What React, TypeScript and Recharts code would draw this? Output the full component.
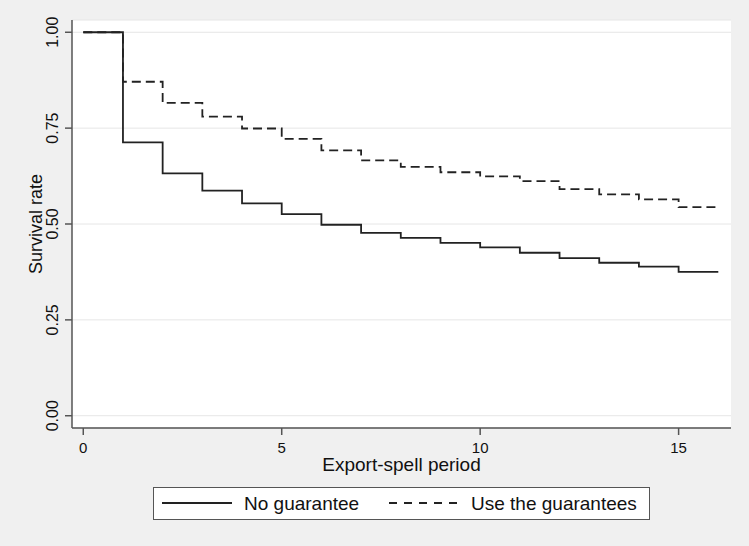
import { LineChart, Line, XAxis, YAxis, CartesianGrid } from "recharts";

const periods = [0, 1, 2, 3, 4, 5, 6, 7, 8, 9, 10, 11, 12, 13, 14, 15, 16];
const noGuarantee = [
  1.0, 0.713, 0.632, 0.587, 0.554, 0.526, 0.498, 0.477, 0.464, 0.451, 0.439,
  0.425, 0.411, 0.399, 0.389, 0.375, 0.375,
];
const useGuarantees = [
  1.0, 0.871, 0.816, 0.78, 0.749, 0.722, 0.692, 0.666, 0.649, 0.635, 0.624,
  0.612, 0.591, 0.577, 0.564, 0.544, 0.544,
];
const xTicks = [0, 5, 10, 15];
const yTicks = [0, 0.25, 0.5, 0.75, 1];

const FONT = '"Liberation Sans", Arial, sans-serif';
const INK = "#111";
const AXIS = "#555";

const data = periods.map((t, i) => ({
  t,
  noGuarantee: noGuarantee[i],
  useGuarantees: useGuarantees[i],
}));

function YTick(props: any) {
  const { x, y, payload } = props;
  return (
    <text
      x={x}
      y={y}
      transform={`rotate(-90 ${x} ${y})`}
      textAnchor="middle"
      fontSize={16}
      fontFamily={FONT}
      fill={INK}
    >
      {Number(payload.value).toFixed(2)}
    </text>
  );
}

function XTick(props: any) {
  const { x, y, payload } = props;
  return (
    <text x={x} y={y + 18} textAnchor="middle" fontSize={15} fontFamily={FONT} fill={INK}>
      {payload.value}
    </text>
  );
}

function xTitle(props: any) {
  const vb = props.viewBox;
  return (
    <text
      x={vb.x + vb.width / 2}
      y={vb.y + 43}
      textAnchor="middle"
      fontSize={19}
      fontFamily={FONT}
      fill={INK}
    >
      Export-spell period
    </text>
  );
}

function yTitle(props: any) {
  const vb = props.viewBox;
  const cx = 42;
  const cy = vb.y + vb.height / 2;
  return (
    <text
      x={cx}
      y={cy}
      transform={`rotate(-90 ${cx} ${cy})`}
      textAnchor="middle"
      fontSize={18}
      fontFamily={FONT}
      fill={INK}
    >
      Survival rate
    </text>
  );
}

export default function App() {
  return (
    <div
      style={{
        position: "relative",
        width: 749,
        height: 546,
        background: "#f0f0f0",
        fontFamily: FONT,
      }}
    >
      <style>{"body{margin:0}"}</style>
      <LineChart
        width={749}
        height={546}
        data={data}
        margin={{ top: 20, right: 18, bottom: 0, left: 0 }}
      >
        <CartesianGrid vertical={false} stroke="#e6e6e6" fill="#fff" />
        <XAxis
          dataKey="t"
          type="number"
          domain={[-0.284, 16.32]}
          ticks={xTicks}
          allowDataOverflow
          height={118}
          tickSize={7}
          tickMargin={0}
          stroke={AXIS}
          strokeWidth={1.5}
          tick={XTick}
          label={xTitle}
        />
        <YAxis
          type="number"
          domain={[-0.032, 1.032]}
          ticks={yTicks}
          allowDataOverflow
          width={72}
          tickSize={7}
          tickMargin={7}
          stroke={AXIS}
          strokeWidth={1.5}
          tick={YTick}
          label={yTitle}
        />
        <Line
          type="stepAfter"
          dataKey="noGuarantee"
          stroke="#222"
          strokeWidth={1.8}
          dot={false}
          isAnimationActive={false}
        />
        <Line
          type="stepAfter"
          dataKey="useGuarantees"
          stroke="#222"
          strokeWidth={1.8}
          strokeDasharray="9 5"
          dot={false}
          isAnimationActive={false}
        />
      </LineChart>
      <div
        style={{
          position: "absolute",
          left: 153,
          top: 487,
          width: 497,
          height: 33,
          boxSizing: "border-box",
          border: "1.5px solid #555",
          background: "#fff",
        }}
      >
        <svg width={495} height={31} style={{ display: "block" }}>
          <line x1={8} x2={78} y1={15} y2={15} stroke="#222" strokeWidth={1.8} />
          <text x={90} y={22} fontSize={19} fontFamily={FONT} fill={INK}>
            No guarantee
          </text>
          <line
            x1={235}
            x2={303}
            y1={15}
            y2={15}
            stroke="#222"
            strokeWidth={1.8}
            strokeDasharray="8 7"
          />
          <text x={317} y={22} fontSize={19} fontFamily={FONT} fill={INK}>
            Use the guarantees
          </text>
        </svg>
      </div>
    </div>
  );
}
